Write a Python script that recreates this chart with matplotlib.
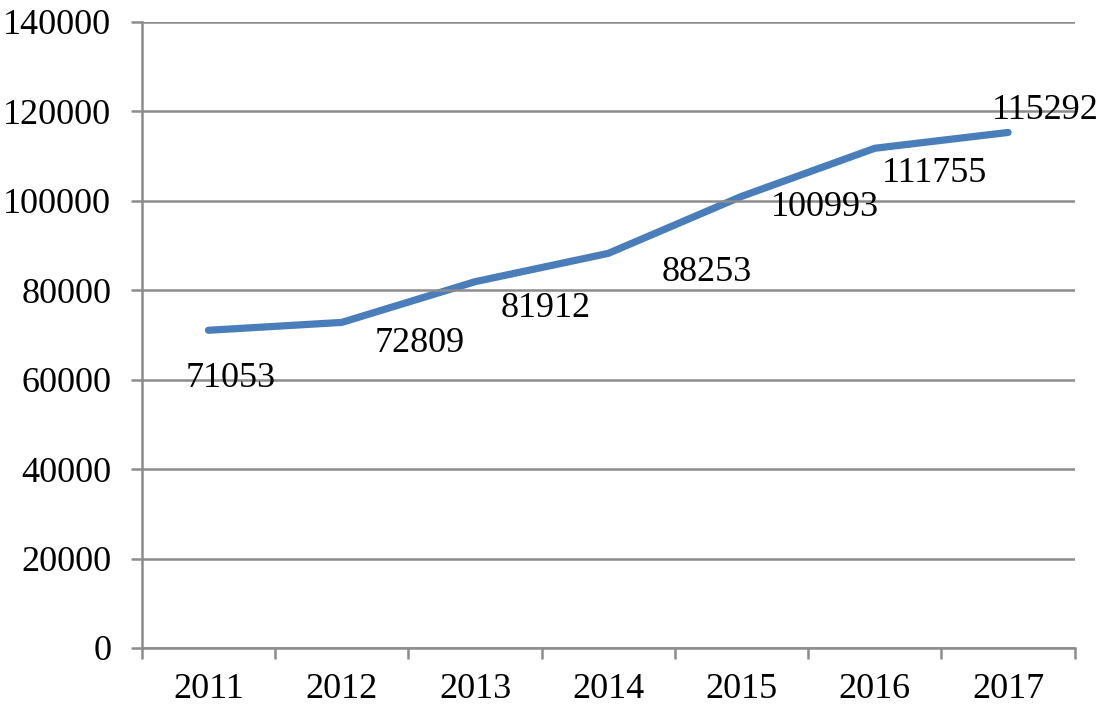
import matplotlib.pyplot as plt
import numpy as np

# data
years = ['2011', '2012', '2013', '2014', '2015', '2016', '2017']
values = [71053, 72809, 81912, 88253, 100993, 111755, 115292]
# label offsets in points (dx, dy) from each point
label_offsets = [(16, -35), (56, -15), (51, -19), (71, -14), (60, -8), (43, -18), (27, 16)]

plt.rcParams['font.family'] = ['Liberation Serif', 'DejaVu Serif']
grey = '#8c8c8c'

fig = plt.figure(figsize=(11, 7.13), dpi=100)
ax = fig.add_axes([0.129, 0.0912, 0.848, 0.878])

x = np.arange(len(years))
ax.plot(x, values, color='#4a7ebb', linewidth=5.2, solid_capstyle='round', zorder=2)

for xi, v, (dx, dy) in zip(x, values, label_offsets):
    ax.annotate(str(v), (xi, v), xytext=(dx, dy), textcoords='offset points',
                ha='center', va='center', fontsize=26, zorder=3)

ax.set_xlim(-0.5, len(years) - 0.5)
ax.set_ylim(0, 140000)
ax.set_yticks(np.arange(0, 140001, 20000))
ax.yaxis.grid(True, color=grey, linewidth=1.8, zorder=4)
ax.set_axisbelow(False)

ax.set_xticks(x)
ax.set_xticklabels(years)
ax.set_xticks(np.arange(-0.5, len(years)), minor=True)
ax.tick_params(axis='x', which='major', length=0, pad=18, labelsize=26)
ax.tick_params(axis='x', which='minor', length=8, width=1.8, color=grey)
ax.tick_params(axis='y', length=8, width=1.8, color=grey, labelsize=26, pad=14)

for s in ['top', 'right']:
    ax.spines[s].set_visible(False)
for s in ['left', 'bottom']:
    ax.spines[s].set_color(grey)
    ax.spines[s].set_linewidth(1.8)

fig.savefig('out.png', dpi=100)
